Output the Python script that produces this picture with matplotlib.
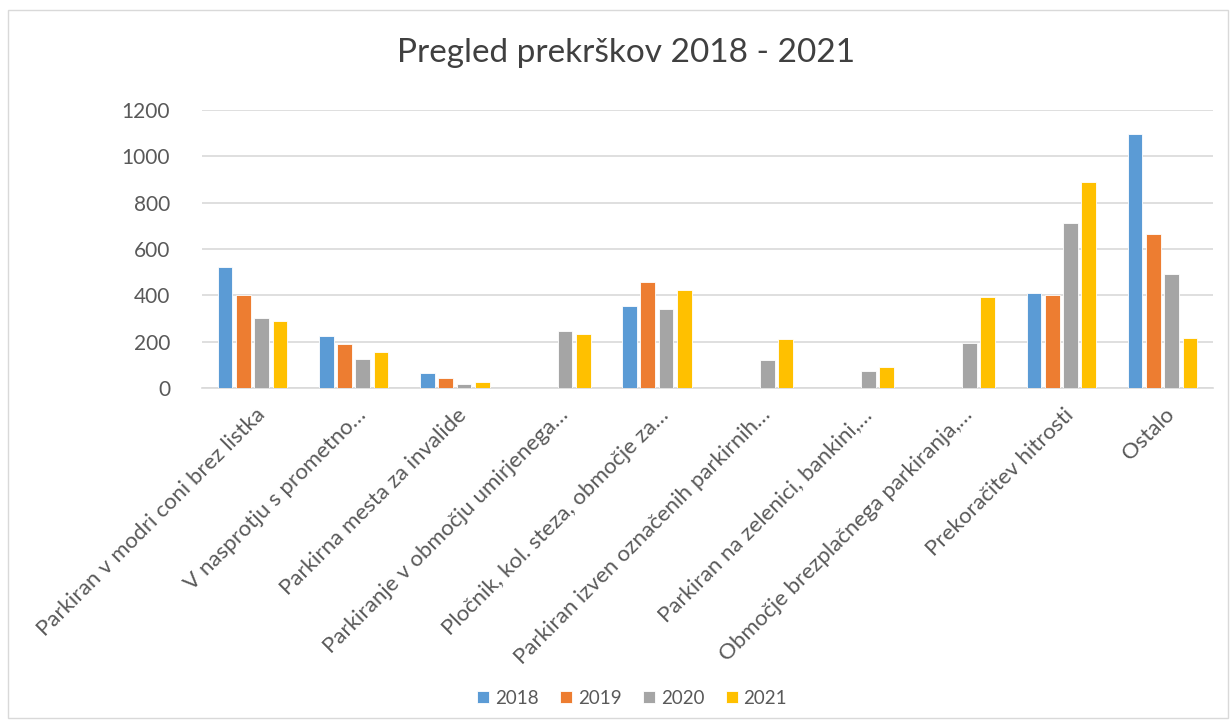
import matplotlib
matplotlib.use("Agg")
import matplotlib.pyplot as plt
import numpy as np
from matplotlib.patches import Rectangle

categories = [
    "Parkiran v modri coni brez listka",
    "V nasprotju s prometno…",
    "Parkirna mesta za invalide",
    "Parkiranje v območju umirjenega…",
    "Pločnik, kol. steza, območje za…",
    "Parkiran izven označenih parkirnih…",
    "Parkiran na zelenici, bankini,…",
    "Območje brezplačnega parkiranja,…",
    "Prekoračitev hitrosti",
    "Ostalo",
]
series_names = ["2018", "2019", "2020", "2021"]
v2018 = [522, 223, 63, 0, 355, 0, 0, 0, 408, 1096]
v2019 = [400, 191, 45, 0, 457, 0, 0, 0, 400, 664]
v2020 = [303, 124, 16, 244, 343, 122, 72, 195, 713, 493]
v2021 = [290, 154, 26, 233, 421, 210, 89, 394, 888, 217]
yticks = [0, 200, 400, 600, 800, 1000, 1200]

colors = ["#5B9BD5", "#ED7D31", "#A5A5A5", "#FFC000"]

plt.rcParams['font.family'] = ['Lato', 'DejaVu Sans']

W, H = 1231, 728
fig = plt.figure(figsize=(W / 100, H / 100), dpi=100)
fig.patches.append(Rectangle((8 / W, 10 / H), (1228 - 8) / W, (718 - 10) / H,
                             transform=fig.transFigure, fill=False,
                             edgecolor="#D9D9D9", linewidth=1))

ax = fig.add_axes([202 / W, 1 - 388 / H, (1213 - 202) / W, (388 - 110) / H])

x = np.arange(len(categories))
step = 0.181
width = 0.145
all_vals = [v2018, v2019, v2020, v2021]
for i, (name, vals) in enumerate(zip(series_names, all_vals)):
    ax.bar(x + (i - 1.5) * step, vals, width=width, color=colors[i],
           label=name, edgecolor="white", linewidth=0.6, zorder=3)

ax.set_xlim(-0.5, len(categories) - 0.5)
ax.set_ylim(0, 1200)
ax.set_yticks(yticks)
ax.set_yticklabels([str(t) for t in yticks], fontsize=15, color="#595959")
ax.yaxis.grid(True, color="#D9D9D9", linewidth=1.2, zorder=0)
ax.set_axisbelow(True)
for s in ["top", "right", "left"]:
    ax.spines[s].set_visible(False)
ax.spines["bottom"].set_color("#D9D9D9")
ax.spines["bottom"].set_linewidth(1.2)
ax.tick_params(axis="both", length=0)
ax.tick_params(axis="y", pad=23)

ax.set_xticks(x + 0.02)
ax.set_xticklabels(categories, rotation=45, ha="right", rotation_mode="anchor",
                   fontsize=16, color="#595959")
ax.tick_params(axis="x", pad=12)

fig.text(626 / W, 1 - 53 / H, "Pregled prekrškov 2018 - 2021", ha="center",
         va="center", fontsize=24, color="#404040")

leg = fig.legend(loc="center", bbox_to_anchor=(632 / W, 1 - 698 / H), ncol=4,
                 frameon=False, fontsize=13.5, handlelength=0.65, handleheight=0.65,
                 handletextpad=0.3, columnspacing=1.15)
for t in leg.get_texts():
    t.set_color("#595959")

fig.savefig("out.png", dpi=100)
